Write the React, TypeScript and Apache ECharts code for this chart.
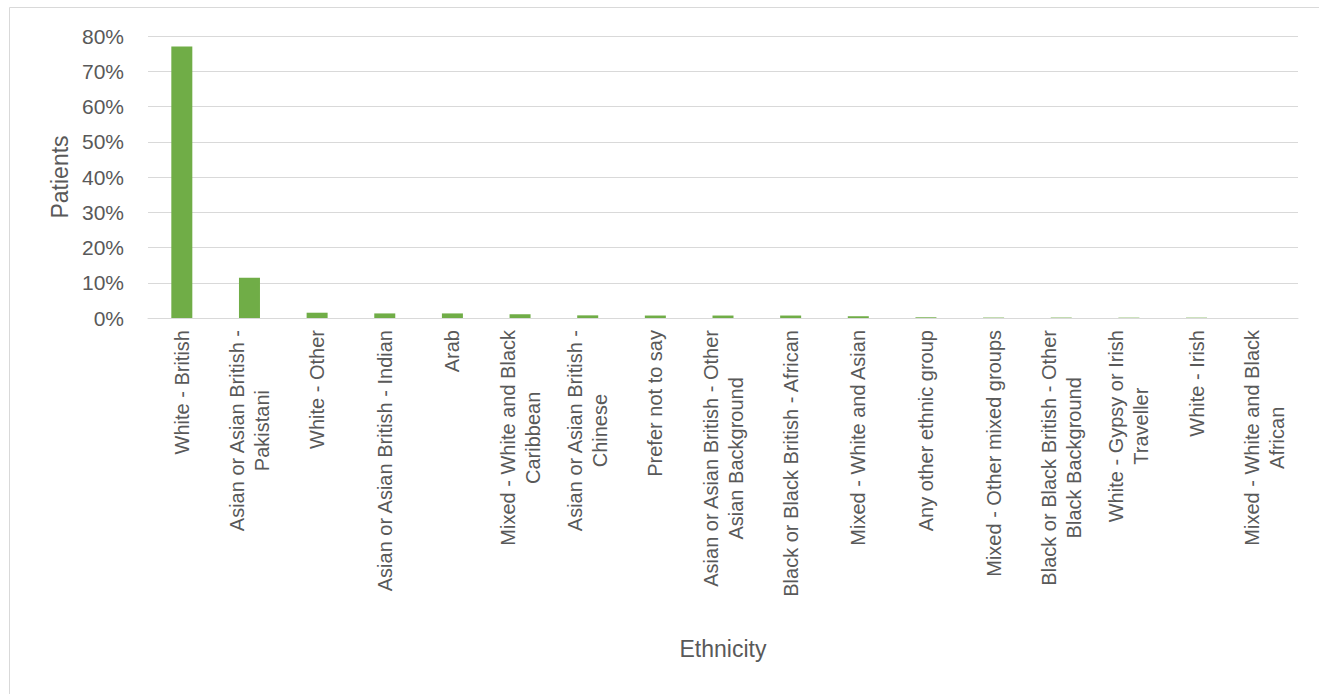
import React, { useEffect, useRef } from "react";
import * as echarts from "echarts";

const categories: string[] = [
  "White - British",
  "Asian or Asian British -\nPakistani",
  "White - Other",
  "Asian or Asian British - Indian",
  "Arab",
  "Mixed - White and Black\nCaribbean",
  "Asian or Asian British -\nChinese",
  "Prefer not to say",
  "Asian or Asian British - Other\nAsian Background",
  "Black or Black British - African",
  "Mixed - White and Asian",
  "Any other ethnic group",
  "Mixed - Other mixed groups",
  "Black or Black British - Other\nBlack Background",
  "White - Gypsy or Irish\nTraveller",
  "White - Irish",
  "Mixed - White and Black\nAfrican",
];

const patientsPct: number[] = [
  77.0, 11.4, 1.5, 1.3, 1.3, 1.05, 0.75, 0.7, 0.7, 0.7, 0.5, 0.2, 0.12, 0.12, 0.1, 0.1, 0,
];

const yTicks = { min: 0, max: 80, interval: 10 };

const FONT = "'Liberation Sans', Arial, sans-serif";
const TXT = "#595959";
const CAT_SIZE = 20;
const LABEL_MARGIN = 12;

function measure(text: string, size: number): number {
  const span = document.createElement("span");
  span.style.position = "absolute";
  span.style.visibility = "hidden";
  span.style.whiteSpace = "pre";
  span.style.fontFamily = FONT;
  span.style.fontSize = size + "px";
  span.textContent = text;
  document.body.appendChild(span);
  const w = span.getBoundingClientRect().width;
  document.body.removeChild(span);
  return w;
}

export default function App() {
  const ref = useRef<HTMLDivElement>(null);
  useEffect(() => {
    if (!ref.current) return;
    const chart = echarts.init(ref.current, undefined, { renderer: "svg" });
    const border = {
      type: "rect",
      shape: { x: 9.5, y: 7.5, width: 1400, height: 800 },
      style: { fill: "none", stroke: "#d9d9d9", lineWidth: 1 },
      silent: true,
    };
    chart.setOption({
      animation: false,
      backgroundColor: "#ffffff",
      grid: { left: 148, right: 21, top: 36, bottom: 376, containLabel: false },
      xAxis: {
        type: "category",
        data: categories,
        name: "Ethnicity",
        nameLocation: "middle",
        nameGap: 319,
        nameTextStyle: { fontFamily: FONT, fontSize: 23, color: TXT },
        axisLine: { lineStyle: { color: "#d9d9d9", width: 1 } },
        axisTick: { show: false },
        axisLabel: { show: false },
      },
      yAxis: {
        type: "value",
        min: yTicks.min,
        max: yTicks.max,
        interval: yTicks.interval,
        name: "Patients",
        nameLocation: "middle",
        nameRotate: 90,
        nameGap: 75,
        nameTextStyle: { fontFamily: FONT, fontSize: 23, color: TXT },
        axisLine: { show: false },
        axisTick: { show: false },
        splitLine: { lineStyle: { color: "#d9d9d9", width: 1 } },
        axisLabel: {
          formatter: "{value}%",
          margin: 24,
          fontFamily: FONT,
          fontSize: 21,
          color: TXT,
        },
      },
      series: [
        {
          type: "bar",
          data: patientsPct,
          barWidth: 21,
          itemStyle: { color: "#70ad47" },
        },
      ],
    });

    // Category labels: rotated, lines centred on each other, block top at the axis.
    const axisY = chart.convertToPixel({ yAxisIndex: 0 }, 0) as number;
    const labels = categories.map((cat, i) => {
      const x = chart.convertToPixel({ xAxisIndex: 0 }, i) as number;
      const w = Math.max(...cat.split("\n").map((l) => measure(l, CAT_SIZE)));
      return {
        type: "text",
        x,
        y: axisY + LABEL_MARGIN + w / 2,
        rotation: Math.PI / 2,
        silent: true,
        style: {
          text: cat,
          fontFamily: FONT,
          fontSize: CAT_SIZE,
          fill: TXT,
          align: "center",
          verticalAlign: "middle",
          lineHeight: 25,
        },
      };
    });
    chart.setOption({ graphic: [border, ...labels] });

    return () => chart.dispose();
  }, []);
  return (
    <div
      ref={ref}
      style={{ position: "absolute", left: 0, top: 0, width: 1319, height: 694 }}
    />
  );
}
